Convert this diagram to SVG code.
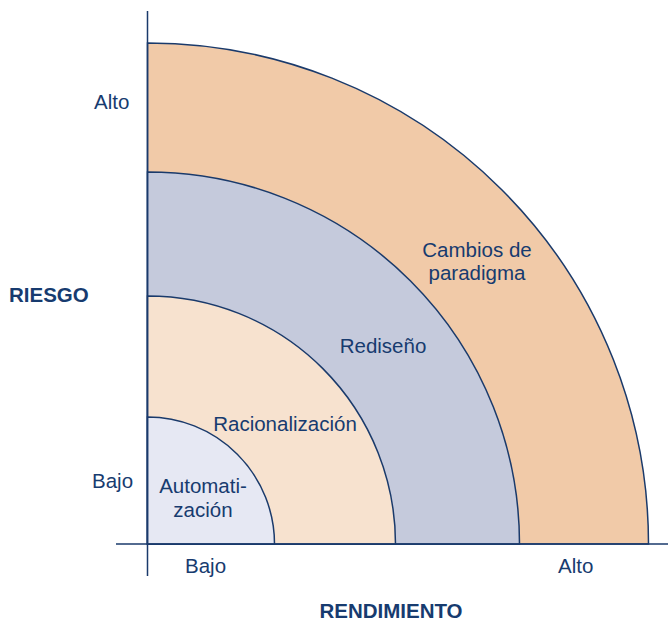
<svg xmlns="http://www.w3.org/2000/svg" width="668" height="623" viewBox="0 0 668 623">
<style>
.arc{stroke:#1a3a6b;stroke-width:1.5}
.ax{stroke:#1a3a6b;stroke-width:1.5;fill:none}
text{font-family:"Liberation Sans",Arial,sans-serif;font-size:20.5px;fill:#173b6f}
.b{font-weight:bold;font-size:20.5px}
.m{text-anchor:middle}
</style>
<rect width="668" height="623" fill="#ffffff"/>
<g id="cambios">
<path class="arc" fill="#f1caa8" d="M147.5,544 L147.5,43 A501,501 0 0 1 648.5,544 Z"/>
</g>
<g id="rediseno">
<path class="arc" fill="#c5cadc" d="M147.5,544 L147.5,172 A372,372 0 0 1 519.5,544 Z"/>
</g>
<g id="racionalizacion">
<path class="arc" fill="#f7e2cf" d="M147.5,544 L147.5,296 A248,248 0 0 1 395.5,544 Z"/>
</g>
<g id="automatizacion">
<path class="arc" fill="#e6e8f3" d="M147.5,544 L147.5,417 A127,127 0 0 1 274.5,544 Z"/>
</g>
<g id="connectors">
<line class="ax" x1="147.5" y1="11" x2="147.5" y2="576"/>
<line class="ax" x1="116" y1="544" x2="668" y2="544"/>
</g>
<g id="labels">
<text x="477" y="257" class="m">Cambios de</text>
<text x="477" y="280" class="m">paradigma</text>
<text x="383" y="353" class="m">Rediseño</text>
<text x="285" y="431" class="m">Racionalización</text>
<text x="203" y="493" class="m">Automati-</text>
<text x="203" y="517" class="m">zación</text>
<text x="94" y="109">Alto</text>
<text x="92" y="488">Bajo</text>
<text x="185" y="573">Bajo</text>
<text x="558" y="573">Alto</text>
<text x="9" y="302" class="b">RIESGO</text>
<text x="391" y="618" class="b m">RENDIMIENTO</text>
</g>
</svg>
